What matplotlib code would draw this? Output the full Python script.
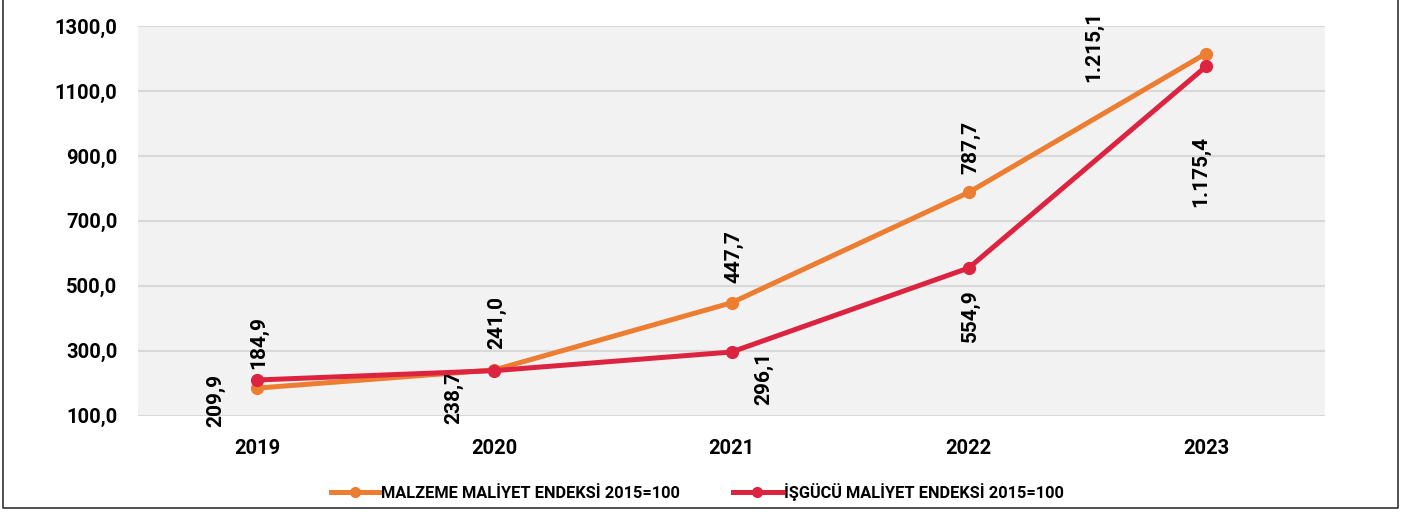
import matplotlib
matplotlib.use("Agg")
import matplotlib.pyplot as plt
from matplotlib.lines import Line2D

# ---- data ----
years = ["2019", "2020", "2021", "2022", "2023"]
malzeme = [184.9, 241.0, 447.7, 787.7, 1215.1]
isgucu = [209.9, 238.7, 296.1, 554.9, 1175.4]
malzeme_name = "MALZEME MALİYET ENDEKSİ 2015=100"
isgucu_name = "İŞGÜCÜ MALİYET ENDEKSİ 2015=100"
yticks = [100, 300, 500, 700, 900, 1100, 1300]

# label offsets (points) - layout only
malzeme_off = [(1.4, 33), (2, 34), (1.4, 33), (1.4, 32.5), (-80.6, 4.8)]
isgucu_off = [(-29.5, -14.4), (-29.5, -19.5), (23, -19), (1.4, -34), (-3.6, -75.8)]

ORANGE = "#ED7D31"
RED = "#DC2340"

plt.rcParams['font.family'] = ['Roboto', 'DejaVu Sans']
fig = plt.figure(figsize=(14.07, 5.12), dpi=100)
ax = fig.add_axes([138.4/1407, 1-415.7/512, (1324.6-138.4)/1407, (415.7-26)/512])
ax.set_facecolor("#F2F2F2")

x = list(range(len(years)))
ax.plot(x, malzeme, color=ORANGE, lw=3.6, marker='o', ms=8.5, zorder=3)
ax.plot(x, isgucu, color=RED, lw=3.6, marker='o', ms=8.5, zorder=4)

def fmt(v):
    s = f"{v:,.1f}"
    return s.replace(",", "X").replace(".", ",").replace("X", ".")

for xi, v, off in zip(x, malzeme, malzeme_off):
    ax.annotate(fmt(v), (xi, v), xytext=off, textcoords='offset points',
                rotation=90, ha='center', va='center', fontsize=15, fontweight='bold')
for xi, v, off in zip(x, isgucu, isgucu_off):
    ax.annotate(fmt(v), (xi, v), xytext=off, textcoords='offset points',
                rotation=90, ha='center', va='center', fontsize=15, fontweight='bold')

ax.set_xlim(-0.5, len(years) - 0.5)
ax.set_ylim(100, 1300)
ax.set_yticks(yticks)
ax.set_yticklabels([f"{t},0" for t in yticks], fontsize=14.5, fontweight='bold')
ax.set_xticks(x)
ax.set_xticklabels(years, fontsize=14.5, fontweight='bold')
ax.tick_params(axis='y', length=0, pad=15)
ax.tick_params(axis='x', length=0, pad=17)
ax.grid(axis='y', color='#D9D9D9', lw=1.5)
ax.set_axisbelow(True)
for s in ax.spines.values():
    s.set_visible(False)

handles = [Line2D([], [], color=ORANGE, lw=3.6, marker='o', ms=7),
           Line2D([], [], color=RED, lw=3.6, marker='o', ms=7)]
fig.legend(handles, [malzeme_name, isgucu_name], loc='center',
           bbox_to_anchor=(697/1407, 1-492/512), ncol=2, frameon=False,
           prop={'size': 11.8, 'weight': 'bold'}, handlelength=3.0,
           handletextpad=0.1, columnspacing=3.2)

# figure border (left, right, bottom)
fig.add_artist(Line2D([3/1407, 3/1407, 1398/1407, 1398/1407],
                      [1.0, 1-508/512, 1-508/512, 1.0],
                      transform=fig.transFigure, color='#333333', lw=1.2))

fig.savefig("out.png", dpi=100)
